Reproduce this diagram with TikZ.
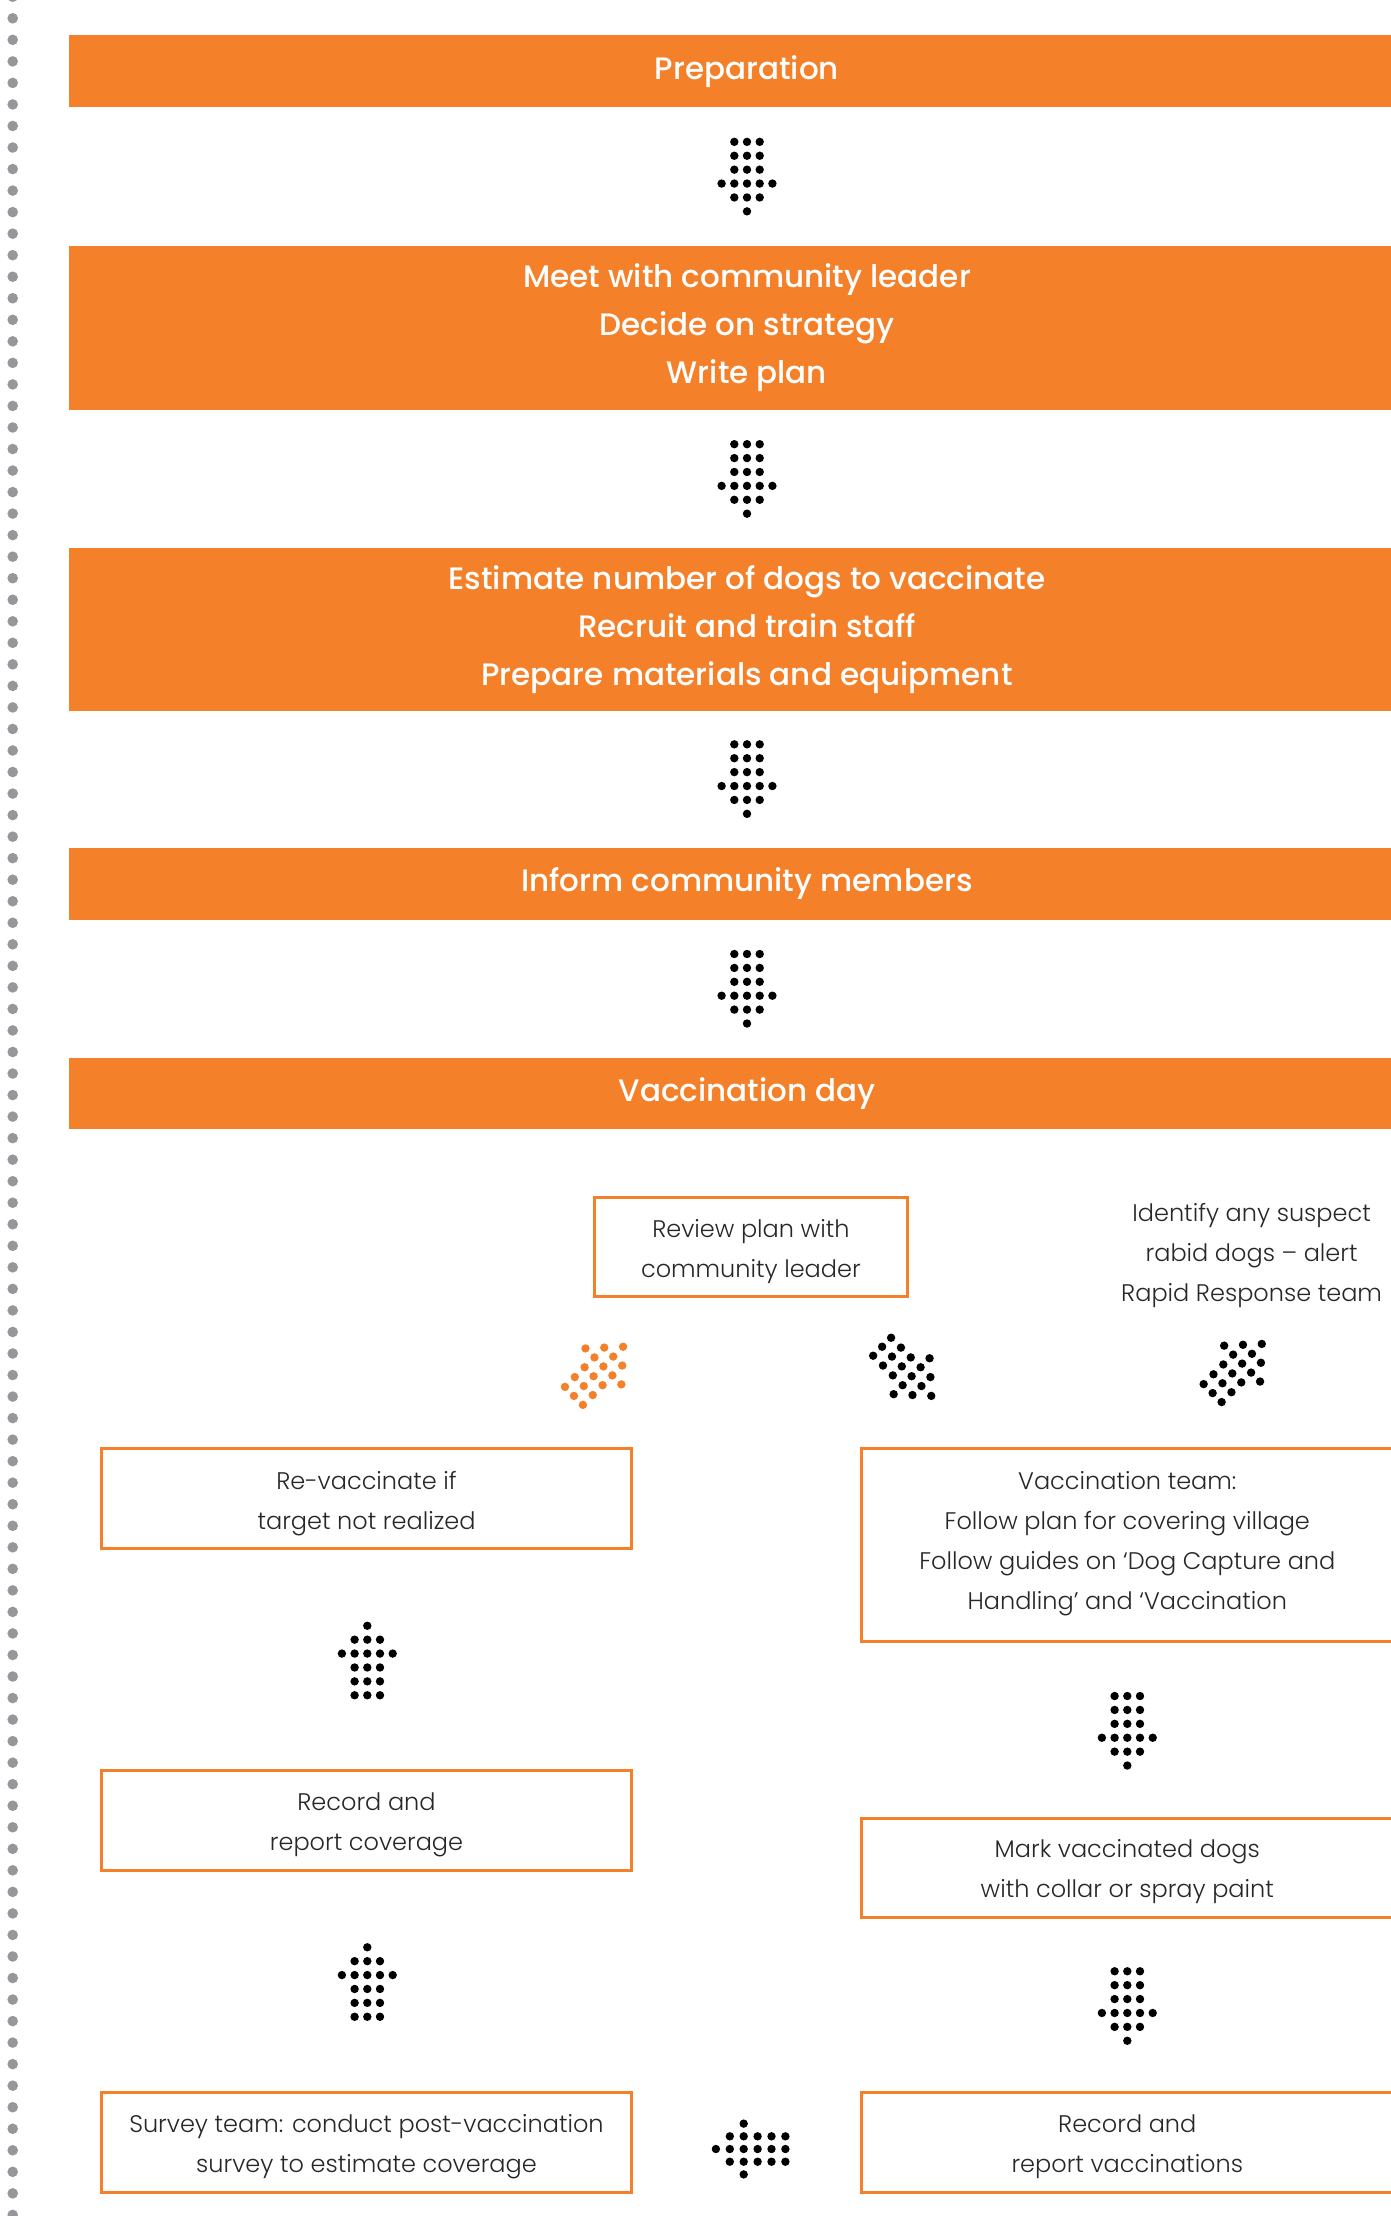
\documentclass[tikz,border=0pt]{standalone}
\usepackage{fontspec}
\setmainfont{Poppins}
\newfontfamily\bannerfont{Poppins Medium}
\newfontfamily\boxfont{Poppins Light}
\usetikzlibrary{calc}
\definecolor{vorange}{RGB}{244,129,42}
\definecolor{vgray}{RGB}{150,151,155}
\definecolor{vtext}{RGB}{40,38,38}
\tikzset{
  dotarrow/.pic={
    \foreach \c in {-1,0,1}{
      \fill ({\c*12.7},{(0-2.5)*13.9}) circle (4.2);
      \fill ({\c*12.7},{(1-2.5)*13.9}) circle (4.2);
      \fill ({\c*12.7},{(2-2.5)*13.9}) circle (4.2);
      \fill ({\c*12.7},{(4-2.5)*13.9}) circle (4.2);
    }
    \foreach \c in {-2,-1,0,1,2}{
      \fill ({\c*12.7},{(3-2.5)*13.9}) circle (4.2);
    }
    \fill (0,{(5-2.5)*13.9}) circle (4.2);
  }
}
\begin{document}
\begin{tikzpicture}[x=1pt,y=-1pt,
  banner/.style={fill=vorange, text=white, inner sep=0pt, minimum width=1356,
    align=center, font=\bannerfont\fontsize{31}{48}\selectfont},
  stepbox/.style={draw=vorange, line width=3, fill=white, inner sep=0pt,
    minimum width=530, minimum height=100},
  boxtext/.style={inner sep=0pt, align=center, text=vtext,
    font=\boxfont\fontsize{24}{40}\selectfont}
]
\useasboundingbox (0,0) rectangle (1390,2216);
% left dotted edge
\foreach \k in {-1,...,102}{
  \fill[vgray] (12.7,{18.3+21.535*\k}) circle (5.3);
}
% banners
\node[banner, minimum height=72] (prep) at (747,71.4) {Preparation};
\node[banner, minimum height=164] (meet) at (747,327.8)
  {Meet with community leader\\Decide on strategy\\Write plan};
\node[banner, minimum height=162.5] (est) at (747,629.3)
  {Estimate number of dogs to vaccinate\\Recruit and train staff\\Prepare materials and equipment};
\node[banner, minimum height=72] (inform) at (747,883.6) {Inform community members};
\node[banner, minimum height=71] (vday) at (747,1093.4) {Vaccination day};
% vertical dot arrows between banners
\pic at ($(prep.south)!0.5!(meet.north)$) {dotarrow};
\pic at ($(meet.south)!0.5!(est.north)$) {dotarrow};
\pic at ($(est.south)!0.5!(inform.north)$) {dotarrow};
\pic at ($(inform.south)!0.5!(vday.north)$) {dotarrow};
% vaccination day boxes (frames)
\node[stepbox, minimum width=313.7, minimum height=99.4] (review) at (750.9,1247) {};
\node[stepbox] (revacc) at (366.5,1498) {};
\node[stepbox] (reccov) at (366.5,1820) {};
\node[stepbox] (survey) at (366.5,2142) {};
\node[stepbox, minimum width=531, minimum height=193.5] (vteam) at (1127.3,1544.8) {};
\node[stepbox, minimum width=531, minimum height=99] (mark) at (1127.3,1867.5) {};
\node[stepbox, minimum width=531] (recvac) at (1127.3,2142) {};
% texts
\node[boxtext] (review-t) at ([yshift=-4.5pt]review.center) {Review plan with\\community leader};
\node[boxtext] (identify) at (1251.6,1255.8)
  {Identify any suspect\\rabid dogs – alert\\Rapid Response team};
\node[boxtext] (revacc-t) at ([yshift=-5.5pt]revacc.center) {Re-vaccinate if\\target not realized};
\node[boxtext] (reccov-t) at ([yshift=-4.5pt]reccov.center) {Record and\\report coverage};
\node[boxtext] (survey-t) at ([yshift=-5pt]survey.center)
  {Survey team: conduct post-vaccination\\survey to estimate coverage};
\node[boxtext] (vteam-t) at ([yshift=1pt]vteam.center)
  {Vaccination team:\\Follow plan for covering village\\Follow guides on ‘Dog Capture and\\Handling’ and ‘Vaccination};
\node[boxtext] (mark-t) at ([yshift=-4.5pt]mark.center) {Mark vaccinated dogs\\with collar or spray paint};
\node[boxtext] (recvac-t) at ([yshift=-4.5pt]recvac.center) {Record and\\report vaccinations};
% dot arrows in vaccination day section
\pic[rotate=135, vorange] at (598.5,1371.3) {dotarrow};
\pic[rotate=45] at (906.7,1371.3) {dotarrow};
\pic[rotate=135] at (1237.2,1368.5) {dotarrow};
\pic[rotate=180] at ($(revacc.south)!0.5!(reccov.north)+(0.8,1.5)$) {dotarrow};
\pic[rotate=180] at ($(reccov.south)!0.5!(survey.north)+(0.8,1)$) {dotarrow};
\pic at ($(vteam.south)!0.5!(mark.north)+(0,1)$) {dotarrow};
\pic at ($(mark.south)!0.5!(recvac.north)+(0,1.5)$) {dotarrow};
\pic[rotate=-90] at ($(survey.east)!0.5!(recvac.west)+(4,7)$) {dotarrow};
\end{tikzpicture}
\end{document}
